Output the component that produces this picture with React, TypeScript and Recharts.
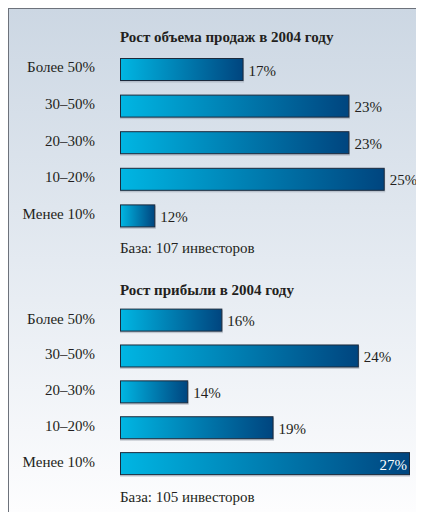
import React from 'react';
import { BarChart, Bar, XAxis, YAxis, LabelList } from 'recharts';

const categories = ['Более 50%', '30–50%', '20–30%', '10–20%', 'Менее 10%'];
const salesGrowth = [17, 23, 23, 25, 12];
const profitGrowth = [16, 24, 14, 19, 27];
const titles = ['Рост объема продаж в 2004 году', 'Рост прибыли в 2004 году'];
const footnotes = ['База: 107 инвесторов', 'База: 105 инвесторов'];
const axisDomain: [number, number] = [10, 27];

const FONT = '"Liberation Serif", "DejaVu Serif", serif';
const TEXT = '#231f20';

const makeShape = (gradId: string) => (props: any) => {
  const { x, y, width, height } = props;
  if (!width || width <= 0) return <g />;
  return (
    <g>
      <rect x={x} y={y + 1.5} width={width + 0.5} height={height} fill="#8d97a3" opacity={0.45} />
      <rect
        x={x + 0.5}
        y={y + 0.5}
        width={width - 1}
        height={height - 1}
        fill={`url(#${gradId})`}
        stroke="#1c2a3c"
        strokeWidth={1}
      />
    </g>
  );
};

const makeLabel = (max: number) => (props: any) => {
  const { x, y, width, height, value } = props;
  const inside = value >= max;
  const tx = inside ? x + width - 3 : x + width + 5;
  return (
    <text
      x={tx}
      y={y + height / 2}
      dy={6}
      textAnchor={inside ? 'end' : 'start'}
      fill={inside ? '#ffffff' : TEXT}
      fontFamily={FONT}
      fontSize={15}
    >
      {value}%
    </text>
  );
};

const CatTick = (props: any) => {
  const { x, y, payload } = props;
  return (
    <text x={x} y={y} dy={3} textAnchor="end" fill={TEXT} fontFamily={FONT} fontSize={15}>
      {payload.value}
    </text>
  );
};

type PanelProps = {
  values: number[];
  gradId: string;
  height: number;
  top: number;
  bottom: number;
  right: number;
};

const Panel = ({ values, gradId, height, top, bottom, right }: PanelProps) => {
  const data = categories.map((c, i) => ({ category: c, value: values[i] }));
  return (
    <BarChart
      width={416}
      height={height}
      data={data}
      layout="vertical"
      margin={{ top, bottom, left: 0, right }}
      barSize={23}
    >
      <defs>
        <linearGradient id={gradId} x1="0" y1="0" x2="1" y2="0">
          <stop offset="0%" stopColor="#00b6e3" />
          <stop offset="100%" stopColor="#00457f" />
        </linearGradient>
      </defs>
      <XAxis type="number" domain={axisDomain} hide allowDataOverflow />
      <YAxis
        type="category"
        dataKey="category"
        width={112}
        axisLine={false}
        tickLine={false}
        tickSize={0}
        tickMargin={25}
        tick={<CatTick />}
        interval={0}
      />
      <Bar dataKey="value" isAnimationActive={false} shape={makeShape(gradId)}>
        <LabelList dataKey="value" content={makeLabel(axisDomain[1])} />
      </Bar>
    </BarChart>
  );
};

const textStyle: React.CSSProperties = {
  position: 'absolute',
  left: 112,
  fontFamily: FONT,
  fontSize: 15,
  lineHeight: '18px',
  color: TEXT,
  whiteSpace: 'nowrap',
};

export default function App() {
  return (
    <div
      style={{
        position: 'relative',
        width: 416,
        height: 504,
        background: 'linear-gradient(to bottom, #ccd7e3 0%, #e4eaf1 50%, #fdfdfe 100%)',
      }}
    >
      <div style={{ position: 'absolute', left: -1, top: 0, width: 417, height: 1, background: '#6d727b' }} />
      <div style={{ position: 'absolute', left: -1, top: 0, width: 2, height: 504, background: '#6d727b' }} />
      <div style={{ position: 'absolute', left: 0, top: 0 }}>
        <Panel values={salesGrowth} gradId="gradA" height={250} top={43} bottom={24} right={4} />
      </div>
      <div style={{ position: 'absolute', left: 0, top: 250 }}>
        <Panel values={profitGrowth} gradId="gradB" height={254} top={44.6} bottom={30} right={14} />
      </div>
      <div style={{ ...textStyle, top: 19.5, fontWeight: 'bold' }}>{titles[0]}</div>
      <div style={{ ...textStyle, top: 231 }}>{footnotes[0]}</div>
      <div style={{ ...textStyle, top: 273, fontWeight: 'bold' }}>{titles[1]}</div>
      <div style={{ ...textStyle, top: 480 }}>{footnotes[1]}</div>
    </div>
  );
}
